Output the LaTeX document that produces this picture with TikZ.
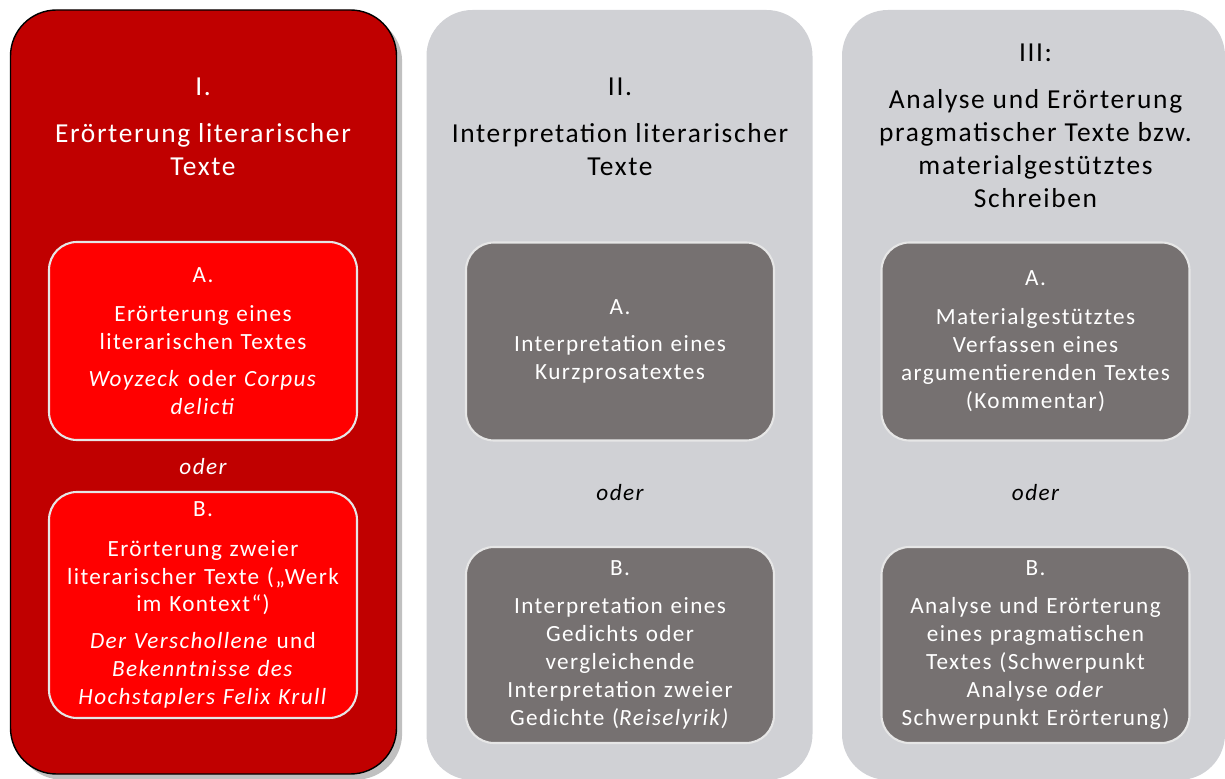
\documentclass[tikz,border=0pt]{standalone}
\usepackage{fontspec}
\setmainfont{Carlito}[LetterSpace=6]
\usetikzlibrary{shadows}

\definecolor{darkred}{HTML}{C00000}
\definecolor{brightred}{HTML}{FF0000}
\definecolor{panelgrey}{HTML}{D0D1D5}
\definecolor{boxgrey}{HTML}{767171}
\definecolor{rimgrey}{HTML}{E6E6E6}

\begin{document}
\begin{tikzpicture}[
    column/.style={rectangle, rounded corners=1.15cm, minimum width=9.65cm, inner sep=0pt},
    task/.style={rectangle, rounded corners=0.7cm, draw=rimgrey, line width=1.5pt,
      minimum width=7.7cm, text width=7.2cm, align=center, text=white,
      font=\fontsize{16.5}{19.9}\selectfont},
    head/.style={align=center, font=\fontsize{19.5}{23.5}\selectfont},
    alt/.style={font=\fontsize{16.5}{19.9}\selectfont\itshape}
  ]
  \useasboundingbox (0,0) rectangle (30.625,19.45);

  % column I
  \node[column, fill=darkred, draw=black, line width=1pt, minimum height=19.1cm,
    drop shadow={shadow xshift=4pt, shadow yshift=-4pt, fill=black!45, opacity=.55}]
    (colI) at (5.0875,9.65) {};
  \node[head, text=white] (headI) at (5.075,16.275)
    {I.\\[10pt] Erörterung literarischer\\Texte};
  \node[task, fill=brightred, minimum height=4.95cm] (taskIA) at (5.075,10.925)
    {A.\\[8pt] Erörterung eines\\literarischen Textes\\[6pt]
     \textit{Woyzeck} oder \textit{Corpus}\\\textit{delicti}};
  \node[alt, text=white] (oderI) at (5.075,7.775) {oder};
  \node[task, fill=brightred, minimum height=5.65cm] (taskIB) at (5.075,4.325)
    {B.\\[8pt] Erörterung zweier\\literarischer Texte („Werk\\im Kontext“)\\[6pt]
     \textit{Der Verschollene} und\\\textit{Bekenntnisse des}\\\textit{Hochstaplers Felix Krull}};

  % column II
  \node[column, fill=panelgrey, minimum height=19.25cm] (colII) at (15.4875,9.575) {};
  \node[head] (headII) at (15.5,16.275)
    {II.\\[10pt] Interpretation literarischer\\Texte};
  \node[task, fill=boxgrey, minimum height=4.95cm] (taskIIA) at (15.5,10.9125)
    {A.\\[7pt] Interpretation eines\\Kurzprosatextes};
  \node[alt] (oderII) at (15.5,7.125) {oder};
  \node[task, fill=boxgrey, minimum height=4.9cm] (taskIIB) at (15.5,3.325)
    {B.\\[7pt] Interpretation eines\\Gedichts oder\\vergleichende\\Interpretation zweier\\
     Gedichte (\textit{Reiselyrik)}};

  % column III
  \node[column, fill=panelgrey, minimum width=9.575cm, minimum height=19.25cm]
    (colIII) at (25.8375,9.575) {};
  \node[head] (headIII) at (25.8875,16.3)
    {III:\\[10pt] Analyse und Erörterung\\pragmatischer Texte bzw.\\materialgestütztes\\Schreiben};
  \node[task, fill=boxgrey, minimum height=4.95cm] (taskIIIA) at (25.8875,10.9125)
    {A.\\[8pt] Materialgestütztes\\Verfassen eines\\argumentierenden Textes\\(Kommentar)};
  \node[alt] (oderIII) at (25.8875,7.125) {oder};
  \node[task, fill=boxgrey, minimum height=4.9cm] (taskIIIB) at (25.8875,3.325)
    {B.\\[7pt] Analyse und Erörterung\\eines pragmatischen\\Textes (Schwerpunkt\\
     Analyse \textit{oder}\\Schwerpunkt Erörterung)};
\end{tikzpicture}
\end{document}
